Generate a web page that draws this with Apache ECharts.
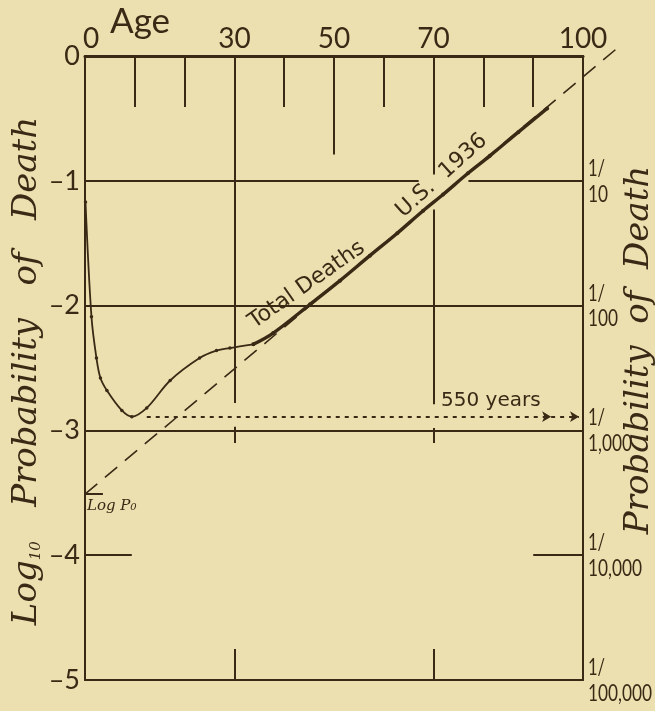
<!DOCTYPE html>
<html>
<head>
<meta charset="utf-8">
<script src="https://cdn.jsdelivr.net/npm/echarts@6/dist/echarts.min.js"></script>
<style>
  html, body { margin: 0; padding: 0; background: #ecdfb0; }
  #chart { width: 655px; height: 711px; }
</style>
</head>
<body>
<div id="chart"></div>
<script>
// U.S. total deaths, 1936: age in years and log10 of the yearly probability of death
const ages = [0.1, 1.3, 2.3, 3.1, 4.4, 7.4, 9.4, 12.4, 17.1, 23.0, 26.4, 29.1, 33.8, 37.8, 45.2, 51.2, 57.2, 62.7, 67.9, 71.9, 76.9, 81.3, 87.0, 92.8];
const logDeathProb = [-1.17, -2.09, -2.42, -2.58, -2.68, -2.84, -2.89, -2.82, -2.60, -2.42, -2.36, -2.34, -2.31, -2.22, -1.99, -1.80, -1.60, -1.42, -1.24, -1.11, -0.94, -0.80, -0.61, -0.42];

// Straight (Gompertz) line through log P0
const logP0 = -3.51;
const gompertzAges = [0, 106.5];
const gompertzLog = [logP0, 0.05];

// Level of the lowest death rate, carried across as "550 years"
const minimumAge = 12.4;
const minimumLog = -2.89;
const spanLabel = '550 years';

// Axis ticks and labels
const logTicks = [0, -1, -2, -3, -4, -5];
const fractionDenominators = ['', '10', '100', '1,000', '10,000', '100,000'];
const ageLabelTicks = [0, 30, 50, 70, 100];
const ageShortTicks = [10, 20, 40, 60, 80, 90];
const ageBottomTicks = [30, 70];

const ink = '#3a2a15';
const paper = '#ecdfb0';
const numFont = 'Lato, "Open Sans", sans-serif';
const wideFont = '"DejaVu Sans", Lato, sans-serif';
const italicFont = '"DejaVu Serif", "Liberation Serif", serif';

const curve = ages.map((a, i) => [a, logDeathProb[i]]);
const split = ages.findIndex(a => a >= 33);
const youngPart = curve.slice(0, split + 1);
const adultPart = curve.slice(split);

// Reference rules drawn inside the frame (age, log) — some broken around the curve label
const seg = (x1, y1, x2, y2) => [{ coord: [x1, y1] }, { coord: [x2, y2] }];
const rules = [
  seg(0, -1, 67, -1), seg(77, -1, 100, -1),
  seg(0, -2, 100, -2),
  seg(0, -3, 100, -3),
  seg(0, -4, 9.4, -4), seg(90, -4, 100, -4),
  seg(0, logP0, 3.6, logP0),
  seg(30, 0, 30, -2.78), seg(30, -2.97, 30, -3.10),
  seg(50, 0, 50, -0.79),
  seg(70, 0, 70, -0.95), seg(70, -1.23, 70, -2.79), seg(70, -2.98, 70, -3.10)
];

const frameLine = w => ({ show: true, onZero: false, lineStyle: { color: ink, width: w } });

const chart = echarts.init(document.getElementById('chart'), null, { renderer: 'canvas' });

chart.setOption({
  backgroundColor: paper,
  animation: false,
  grid: { left: 85, right: 72, top: 56, bottom: 31, containLabel: false },
  xAxis: [
    {
      type: 'value', position: 'top', min: 0, max: 100, interval: 10,
      axisLine: frameLine(3),
      axisTick: { show: true, inside: true, length: 51, customValues: ageShortTicks, lineStyle: { color: ink, width: 2 } },
      splitLine: { show: false },
      axisLabel: {
        show: true, customValues: ageLabelTicks, margin: 3, color: ink,
        fontFamily: numFont, fontSize: 28,
        formatter: v => v === 0 ? '{z|0}' : String(v),
        rich: { z: { fontFamily: numFont, fontSize: 28, color: ink, padding: [0, 0, 0, 12] } }
      }
    },
    {
      type: 'value', position: 'bottom', min: 0, max: 100, interval: 10,
      axisLine: frameLine(2),
      axisTick: { show: true, inside: true, length: 31, customValues: ageBottomTicks, lineStyle: { color: ink, width: 2 } },
      axisLabel: { show: false },
      splitLine: { show: false }
    }
  ],
  yAxis: [
    {
      type: 'value', position: 'left', min: -5, max: 0, interval: 1,
      axisLine: frameLine(2),
      axisTick: { show: false },
      splitLine: { show: false },
      axisLabel: {
        margin: 5, color: ink, fontFamily: numFont, fontSize: 27,
        formatter: v => v === 0 ? '0' : '\u2013' + Math.abs(v)
      }
    },
    {
      type: 'value', position: 'right', min: -5, max: 0, interval: 1,
      axisLine: frameLine(2),
      axisTick: { show: false },
      splitLine: { show: false },
      axisLabel: { show: false }
    }
  ],
  series: [
    {
      name: 'rules', type: 'line', data: [], silent: true,
      markLine: {
        silent: true, symbol: ['none', 'none'], label: { show: false },
        lineStyle: { color: ink, width: 2, type: 'solid' },
        data: rules
      }
    },
    {
      // dashed straight line, allowed to run past the frame
      name: 'Gompertz', type: 'custom', clip: false, z: 3,
      data: [[gompertzAges[0], gompertzLog[0], gompertzAges[1], gompertzLog[1]]],
      renderItem: (params, api) => {
        const a = api.coord([api.value(0), api.value(1)]);
        const b = api.coord([api.value(2), api.value(3)]);
        return {
          type: 'line',
          shape: { x1: a[0], y1: a[1], x2: b[0], y2: b[1] },
          style: { stroke: ink, lineWidth: 1.6, lineDash: [16, 10], fill: null }
        };
      }
    },
    {
      name: 'span', type: 'line', data: [], silent: true,
      markLine: {
        silent: true, label: { show: false }, symbol: ['none', 'arrow'], symbolSize: [8, 9],
        lineStyle: { color: ink, width: 2, type: [4, 5] },
        data: [
          [{ coord: [minimumAge, minimumLog] }, { coord: [93.6, minimumLog] }],
          [{ coord: [93.6, minimumLog] }, { coord: [99.2, minimumLog] }]
        ]
      }
    },
    {
      name: 'Total Deaths 1936 (young)', type: 'line', data: youngPart, smooth: 0.35,
      symbol: 'circle', symbolSize: 3.5, showSymbol: true,
      itemStyle: { color: ink }, lineStyle: { color: ink, width: 1.8 }, z: 5
    },
    {
      name: 'Total Deaths 1936', type: 'line', data: adultPart, smooth: 0.35,
      symbol: 'circle', symbolSize: 4, showSymbol: true,
      itemStyle: { color: ink }, lineStyle: { color: ink, width: 3.4 }, z: 5
    }
  ]
});

// Text placed against the data scale
const px = (a, l) => chart.convertToPixel({ gridIndex: 0 }, [a, l]);
const deg = d => d * Math.PI / 180;
const labelA = px(34.6, -2.22);
const labelB = px(64.6, -1.33);
const spanPos = px(71.5, minimumLog);
const p0Pos = px(0, logP0);

// Right-hand scale: 1/10 ... 1/100,000 written as stacked fractions
const fractionLabels = logTicks.slice(1).map((v, k) => {
  const p = px(100, v);
  return {
    type: 'group', x: p[0] + 5, y: p[1], scaleX: 0.72,
    children: [
      { type: 'text', x: 0, y: -1, style: { text: '1/', fill: ink, font: '23px ' + numFont, verticalAlign: 'bottom' } },
      { type: 'text', x: 0, y: 1, style: { text: fractionDenominators[k + 1], fill: ink, font: '24px ' + numFont, verticalAlign: 'top' } }
    ]
  };
});

chart.setOption({
  graphic: [
    {
      type: 'text', left: 110, top: 4,
      style: { text: 'Age', fill: ink, font: '35px ' + numFont }
    },
    {
      type: 'text', x: 27, y: 371, rotation: deg(90),
      style: {
        text: '{m|Log}{s|10}{m|   Probability   of   Death}',
        fill: ink, align: 'center', verticalAlign: 'middle',
        rich: {
          m: { font: 'italic 34px ' + italicFont, fill: ink },
          s: { font: 'italic 15px ' + italicFont, fill: ink, verticalAlign: 'bottom', padding: [0, 2, 0, 0] }
        }
      }
    },
    {
      type: 'text', x: 639, y: 350, rotation: deg(90),
      style: {
        text: 'Probability  of  Death',
        fill: ink, align: 'center', verticalAlign: 'middle',
        font: 'italic 34px ' + italicFont
      }
    },
    {
      type: 'text', x: labelA[0], y: labelA[1], rotation: deg(35), z: 10,
      style: { text: 'Total Deaths', fill: ink, align: 'left', verticalAlign: 'bottom', font: '22px ' + wideFont }
    },
    {
      type: 'text', x: labelB[0], y: labelB[1], rotation: deg(42), z: 10,
      style: { text: 'U.S.  1936', fill: ink, align: 'left', verticalAlign: 'bottom', font: '22px ' + wideFont }
    },
    {
      type: 'text', x: spanPos[0], y: spanPos[1] - 6,
      style: { text: spanLabel, fill: ink, align: 'left', verticalAlign: 'bottom', font: '20px ' + wideFont }
    },
    {
      type: 'text', x: p0Pos[0] + 2, y: p0Pos[1] + 5,
      style: { text: 'Log P\u2080', fill: ink, align: 'left', verticalAlign: 'top', font: 'italic 15px ' + italicFont }
    }
  ].concat(fractionLabels)
});
</script>
</body>
</html>
